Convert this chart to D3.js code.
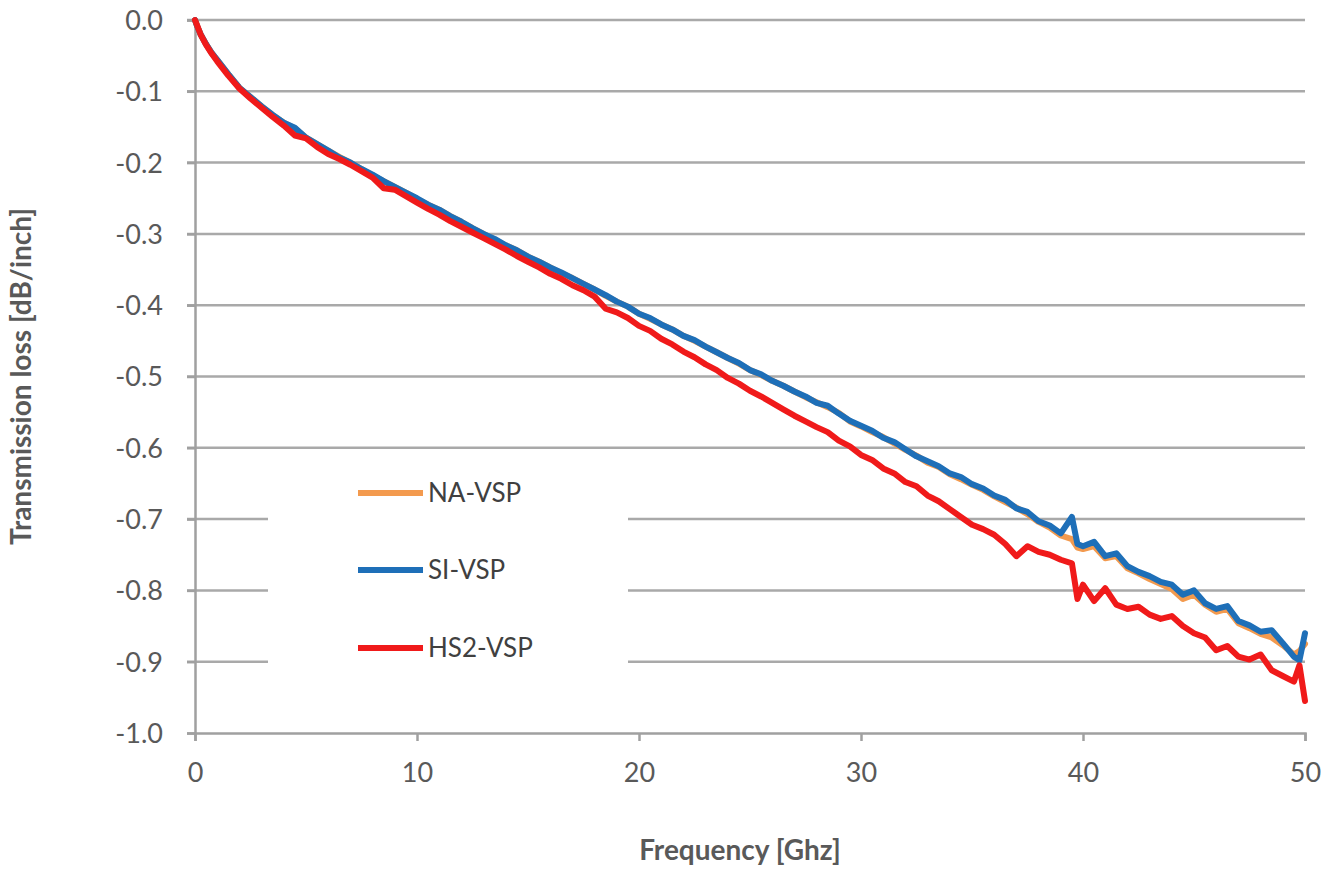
<!DOCTYPE html>
<html>
<head>
<meta charset="utf-8">
<script src="https://cdn.jsdelivr.net/npm/d3@7"></script>
<style>
  body { margin: 0; background: #fff; }
  .tick text { font-family: Lato, "Open Sans", sans-serif; font-size: 27px; fill: #595959; }
  .axis-title { font-family: Lato, "Open Sans", sans-serif; font-size: 28px; font-weight: bold; fill: #595959; }
  .legend-text { font-family: Lato, "Open Sans", sans-serif; font-size: 26px; fill: #404040; }
</style>
</head>
<body>
<div id="wrapper"></div>
<script>
// frequency points (GHz)
const freq = [0, 0.1, 0.25, 0.5, 0.75, 1, 1.5, 2, 2.5, 3, 3.5, 4, 4.5, 5, 5.5, 6, 6.5, 7, 7.5, 8, 8.5, 9, 9.5, 10,
  10.5, 11, 11.5, 12, 12.5, 13, 13.5, 14, 14.5, 15, 15.5, 16, 16.5, 17, 17.5, 18, 18.5, 19, 19.5, 20,
  20.5, 21, 21.5, 22, 22.5, 23, 23.5, 24, 24.5, 25, 25.5, 26, 26.5, 27, 27.5, 28, 28.5, 29, 29.5, 30,
  30.5, 31, 31.5, 32, 32.5, 33, 33.5, 34, 34.5, 35, 35.5, 36, 36.5, 37, 37.5, 38, 38.5, 39, 39.5, 39.75, 40,
  40.5, 41, 41.5, 42, 42.5, 43, 43.5, 44, 44.5, 45, 45.5, 46, 46.5, 47, 47.5, 48, 48.5, 49, 49.5, 49.75, 50]

// transmission loss (dB/inch) per series
const naVsp = [0, -0.009, -0.02, -0.034, -0.046, -0.056, -0.076, -0.095, -0.108, -0.121, -0.133, -0.144, -0.152, -0.165,
  -0.174, -0.183, -0.192, -0.2, -0.209, -0.218, -0.226, -0.234, -0.242, -0.251, -0.259, -0.266, -0.275, -0.283, -0.292,
  -0.3, -0.308, -0.316, -0.323, -0.332, -0.339, -0.347, -0.355, -0.362, -0.37, -0.378, -0.387, -0.395, -0.402, -0.412,
  -0.419, -0.427, -0.434, -0.443, -0.45, -0.458, -0.466, -0.474, -0.482, -0.491, -0.498, -0.506, -0.513, -0.521, -0.529,
  -0.536, -0.543, -0.551, -0.563, -0.57, -0.578, -0.585, -0.594, -0.603, -0.611, -0.621, -0.627, -0.637, -0.644, -0.652,
  -0.659, -0.668, -0.676, -0.684, -0.693, -0.704, -0.712, -0.723, -0.728, -0.74, -0.742, -0.738, -0.755, -0.752, -0.769,
  -0.776, -0.784, -0.791, -0.798, -0.812, -0.806, -0.82, -0.83, -0.826, -0.846, -0.853, -0.861, -0.866, -0.877, -0.89,
  -0.885, -0.875]

const siVsp = [0, -0.009, -0.02, -0.034, -0.046, -0.056, -0.076, -0.095, -0.108, -0.121, -0.133, -0.144, -0.151, -0.165,
  -0.174, -0.183, -0.193, -0.2, -0.209, -0.217, -0.226, -0.234, -0.242, -0.25, -0.259, -0.266, -0.275, -0.283, -0.292,
  -0.3, -0.307, -0.316, -0.323, -0.332, -0.339, -0.347, -0.354, -0.362, -0.37, -0.378, -0.386, -0.395, -0.402, -0.412,
  -0.418, -0.427, -0.434, -0.443, -0.449, -0.458, -0.466, -0.474, -0.481, -0.491, -0.497, -0.506, -0.513, -0.521, -0.528,
  -0.537, -0.541, -0.552, -0.562, -0.569, -0.576, -0.586, -0.592, -0.602, -0.612, -0.619, -0.626, -0.636, -0.641, -0.651,
  -0.657, -0.667, -0.673, -0.685, -0.69, -0.703, -0.709, -0.72, -0.697, -0.735, -0.738, -0.732, -0.752, -0.748, -0.766,
  -0.774, -0.78, -0.788, -0.792, -0.806, -0.8, -0.818, -0.826, -0.822, -0.843, -0.849, -0.858, -0.856, -0.874, -0.893,
  -0.898, -0.86]

const hs2Vsp = [0, -0.008, -0.02, -0.035, -0.047, -0.058, -0.078, -0.096, -0.11, -0.123, -0.136, -0.148, -0.162, -0.166,
  -0.178, -0.188, -0.195, -0.203, -0.212, -0.221, -0.236, -0.238, -0.247, -0.256, -0.265, -0.273, -0.282, -0.29, -0.298,
  -0.306, -0.314, -0.322, -0.331, -0.339, -0.347, -0.356, -0.363, -0.372, -0.379, -0.388, -0.405, -0.41, -0.418, -0.429,
  -0.436, -0.447, -0.455, -0.465, -0.473, -0.483, -0.491, -0.502, -0.51, -0.52, -0.528, -0.537, -0.546, -0.555, -0.563,
  -0.571, -0.578, -0.59, -0.598, -0.61, -0.617, -0.629, -0.636, -0.648, -0.654, -0.667, -0.675, -0.686, -0.697, -0.708,
  -0.714, -0.722, -0.735, -0.752, -0.738, -0.746, -0.75, -0.757, -0.762, -0.812, -0.792, -0.815, -0.797, -0.82, -0.826,
  -0.823, -0.834, -0.84, -0.836, -0.85, -0.86, -0.866, -0.884, -0.878, -0.893, -0.897, -0.89, -0.912, -0.92, -0.928,
  -0.905, -0.955]

const seriesNames = ["NA-VSP", "SI-VSP", "HS2-VSP"]
const seriesValues = [naVsp, siVsp, hs2Vsp]
const seriesColors = ["#f39a4e", "#1e6fb8", "#f01a1a"]

const xTicks = [0, 10, 20, 30, 40, 50]
const yTicks = [0, -0.1, -0.2, -0.3, -0.4, -0.5, -0.6, -0.7, -0.8, -0.9, -1.0]

function drawChart() {
  const dimensions = {
    width: 1327,
    height: 872,
    margin: { top: 20, right: 22, bottom: 139, left: 195 },
  }
  dimensions.boundedWidth = dimensions.width - dimensions.margin.left - dimensions.margin.right
  dimensions.boundedHeight = dimensions.height - dimensions.margin.top - dimensions.margin.bottom

  const svg = d3.select("#wrapper").append("svg")
    .attr("width", dimensions.width)
    .attr("height", dimensions.height)

  const bounds = svg.append("g")
    .attr("transform", `translate(${dimensions.margin.left},${dimensions.margin.top})`)

  const xScale = d3.scaleLinear().domain([0, 50]).range([0, dimensions.boundedWidth])
  const yScale = d3.scaleLinear().domain([-1, 0]).range([dimensions.boundedHeight, 0])

  // gridlines
  bounds.append("g")
    .selectAll("line")
    .data(yTicks.filter(d => d !== -1))
    .join("line")
      .attr("x1", -8)
      .attr("x2", dimensions.boundedWidth)
      .attr("y1", d => yScale(d))
      .attr("y2", d => yScale(d))
      .attr("stroke", "#a9a9a9")
      .attr("stroke-width", 2.5)

  // y axis, excel style hyphen minus
  const yFormat = d => d3.format(".1f")(d).replace("\u2212", "-")
  const yAxis = bounds.append("g")
    .call(d3.axisLeft(yScale).tickValues(yTicks).tickFormat(yFormat).tickSize(8).tickPadding(24))
  yAxis.select(".domain").attr("stroke", "#a0a0a0").attr("stroke-width", 2.5)
  yAxis.selectAll(".tick line").attr("stroke", "#a0a0a0").attr("stroke-width", 2.5)
  yAxis.selectAll(".tick text").attr("dy", "0.35em")

  // x axis
  const xAxis = bounds.append("g")
    .attr("transform", `translate(0,${dimensions.boundedHeight})`)
    .call(d3.axisBottom(xScale).tickValues(xTicks).tickSize(8).tickPadding(22))
  xAxis.select(".domain").attr("stroke", "#a0a0a0").attr("stroke-width", 2.5)
  xAxis.selectAll(".tick line").attr("stroke", "#a0a0a0").attr("stroke-width", 2.5)

  // axis titles
  svg.append("text")
    .attr("class", "axis-title")
    .attr("x", dimensions.margin.left + dimensions.boundedWidth / 2 - 10)
    .attr("y", 860)
    .attr("text-anchor", "middle")
    .text("Frequency [Ghz]")

  svg.append("text")
    .attr("class", "axis-title")
    .attr("transform", `translate(31,${dimensions.margin.top + dimensions.boundedHeight / 2}) rotate(-90)`)
    .attr("text-anchor", "middle")
    .text("Transmission loss [dB/inch]")

  // legend background hides gridlines
  const legendBox = { x: 268, y: 465, w: 360, h: 230 }
  svg.append("rect")
    .attr("x", legendBox.x)
    .attr("y", legendBox.y)
    .attr("width", legendBox.w)
    .attr("height", legendBox.h)
    .attr("fill", "#fff")

  // series lines
  const lineGen = d3.line()
    .x(d => xScale(d[0]))
    .y(d => yScale(d[1]))

  seriesValues.forEach((vals, i) => {
    bounds.append("path")
      .datum(freq.map((f, j) => [f, vals[j]]))
      .attr("fill", "none")
      .attr("stroke", seriesColors[i])
      .attr("stroke-width", 6)
      .attr("stroke-linejoin", "round")
      .attr("stroke-linecap", "round")
      .attr("d", lineGen)
  })

  // legend entries
  const legendYs = [493, 570, 648]
  const legend = svg.append("g")
  seriesNames.forEach((name, i) => {
    legend.append("line")
      .attr("x1", 358).attr("x2", 423)
      .attr("y1", legendYs[i]).attr("y2", legendYs[i])
      .attr("stroke", seriesColors[i])
      .attr("stroke-width", 6)
    legend.append("text")
      .attr("class", "legend-text")
      .attr("x", 428)
      .attr("y", legendYs[i])
      .attr("dy", "0.35em")
      .text(name)
  })
}
drawChart()
</script>
</body>
</html>
